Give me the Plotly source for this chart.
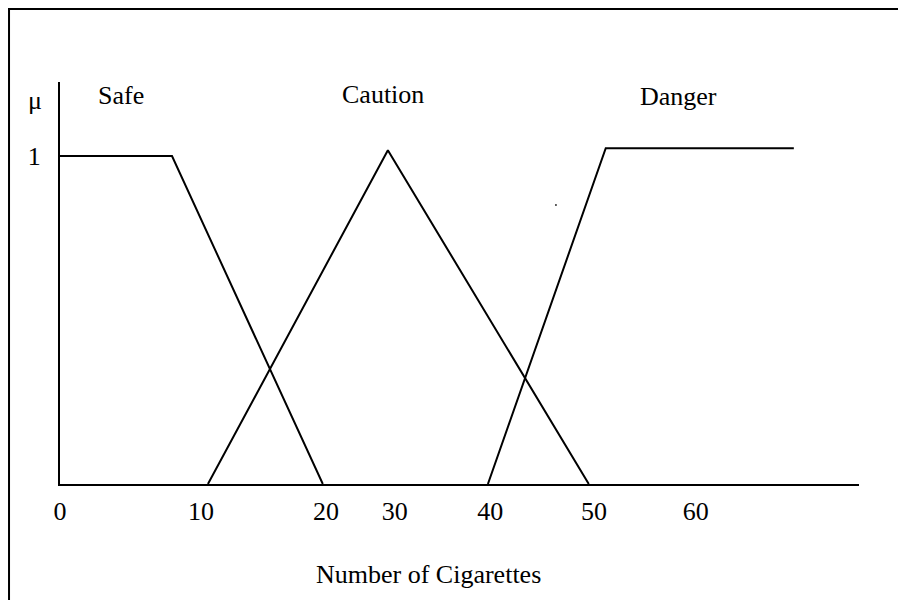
import plotly.graph_objects as go

# ---- data (x in drawn "cigarette" units, y = membership) ----
safe_x = [0, 10.57, 24.8]
safe_y = [1, 1, 0]
caution_x = [13.96, 30.94, 49.9]
caution_y = [0, 1.018, 0]
danger_x = [40.38, 51.5, 69.25]
danger_y = [0, 1.024, 1.024]
stray_x = [46.8]
stray_y = [0.851]

x_tick_pos = [0, 13.3, 25.1, 31.6, 40.6, 50.4, 60.0]
x_tick_text = ["0", "10", "20", "30", "40", "50", "60"]
y_tick_pos = [1]
y_tick_text = ["1"]

set_names = ["Safe", "Caution", "Danger"]
set_label_x = [5.8, 30.5, 58.4]
set_label_y = [1.185, 1.188, 1.182]

FONT = "Liberation Serif, Times New Roman, serif"
FS = 26

fig = go.Figure()
for xs, ys in [(safe_x, safe_y), (caution_x, caution_y), (danger_x, danger_y)]:
    fig.add_trace(go.Scatter(x=xs, y=ys, mode="lines",
                             line=dict(color="black", width=2),
                             showlegend=False, hoverinfo="skip"))
fig.add_trace(go.Scatter(x=stray_x, y=stray_y, mode="markers",
                         marker=dict(color="#333", size=2),
                         showlegend=False, hoverinfo="skip"))

for name, lx, ly in zip(set_names, set_label_x, set_label_y):
    fig.add_annotation(x=lx, y=ly, xref="x", yref="y", text=name,
                       showarrow=False, xanchor="center", yanchor="middle",
                       font=dict(family=FONT, size=FS, color="black"))

# mu label
fig.add_annotation(x=-0.0313, y=0.955, xref="paper", yref="paper", text="μ",
                   showarrow=False, xanchor="center", yanchor="middle",
                   font=dict(family=FONT, size=FS, color="black"))

# axis title
fig.add_annotation(x=0.4606, y=-0.2239, xref="paper", yref="paper",
                   text="Number of Cigarettes", showarrow=False,
                   xanchor="center", yanchor="middle",
                   font=dict(family=FONT, size=FS, color="black"))

# outer border
fig.add_shape(type="rect", xref="paper", yref="paper",
              x0=-0.0638, x1=1.3, y0=-0.5, y1=1.1816,
              line=dict(color="black", width=2), fillcolor="rgba(0,0,0,0)")

fig.update_xaxes(range=[0, 75.4], showgrid=False, zeroline=False,
                 showline=True, linecolor="black", linewidth=2,
                 tickmode="array", tickvals=x_tick_pos, ticktext=x_tick_text,
                 ticks="outside", ticklen=3, tickcolor="rgba(0,0,0,0)",
                 tickfont=dict(family=FONT, size=FS, color="black"))
fig.update_yaxes(range=[0, 1.226], showgrid=False, zeroline=False,
                 showline=True, linecolor="black", linewidth=2,
                 tickmode="array", tickvals=y_tick_pos, ticktext=y_tick_text,
                 ticks="outside", ticklen=12, tickcolor="rgba(0,0,0,0)",
                 tickfont=dict(family=FONT, size=FS, color="black"))

fig.update_layout(width=898, height=592,
                  margin=dict(l=52, r=47, t=74, b=116),
                  paper_bgcolor="white", plot_bgcolor="white",
                  showlegend=False)

fig.write_html("out.html")
